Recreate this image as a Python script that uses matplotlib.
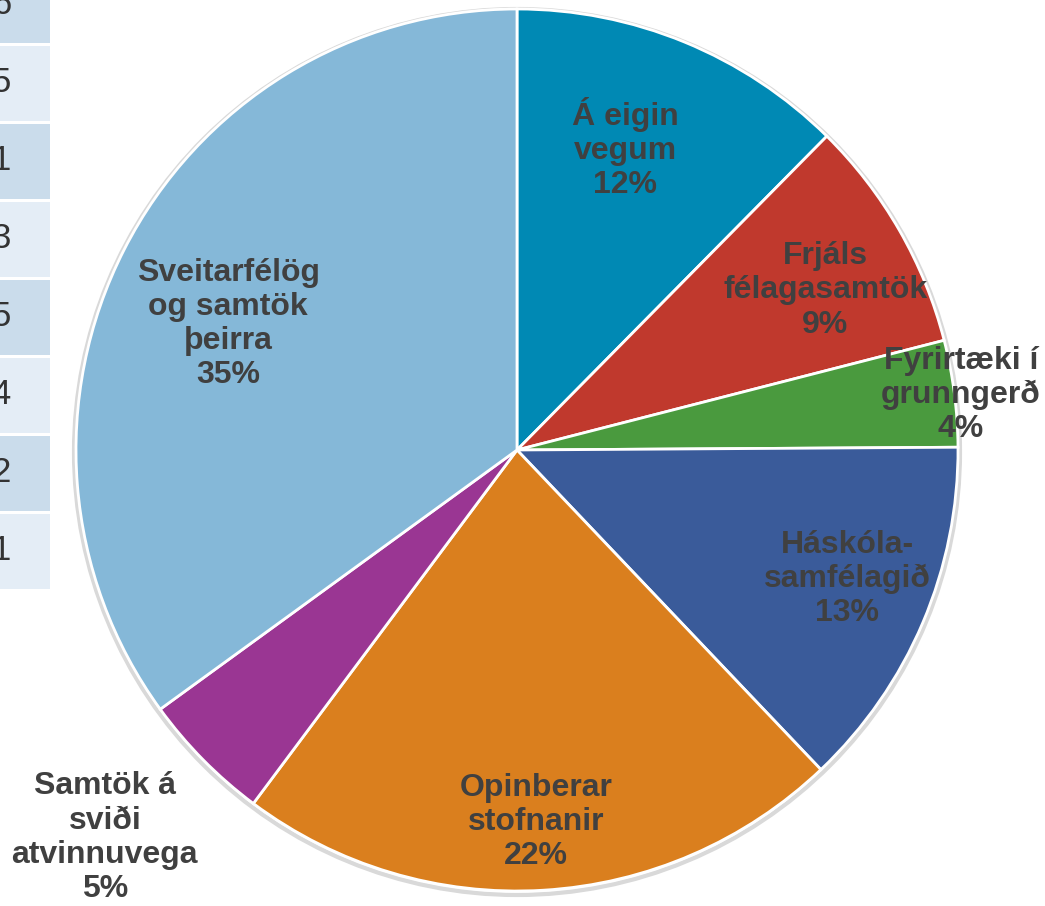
import numpy as np
import matplotlib.pyplot as plt
from matplotlib.patches import Rectangle, Circle

# pie data (clockwise from top)
labels = ['Á eigin\nvegum', 'Frjáls\nfélagasamtök', 'Fyrirtæki í\ngrunngerð',
          'Háskóla-\nsamfélagið', 'Opinberar\nstofnanir', 'Samtök á\nsviði\natvinnuvega',
          'Sveitarfélög\nog samtök\nþeirra']
values = [12.4, 8.6, 3.9, 13.0, 22.3, 4.8, 35.0]
colors = ['#0089B4', '#C0392D', '#4A9A3E', '#3A5B9A', '#DA7F1E', '#9A3693', '#85B8D8']

# partly visible table on the left
table_digits = ['6', '5', '1', '3', '5', '4', '2', '1']

W, H = 1045, 906
fig = plt.figure(figsize=(W/100, H/100), dpi=100)
ax = fig.add_axes([0, 0, 1, 1])
ax.set_xlim(0, W)
ax.set_ylim(0, H)
ax.set_aspect('equal')
ax.axis('off')

# table cells
row_h = 78
top = 44
for i, d in enumerate(table_digits):
    y_top = top + (i - 1) * row_h
    col = '#CADCEB' if i % 2 == 0 else '#E4EDF6'
    ax.add_patch(Rectangle((0, H - y_top - row_h + 1.5), 50, row_h - 3,
                           facecolor=col, edgecolor='none'))
    ax.text(11, H - y_top - row_h / 2, d, ha='right', va='center',
            fontsize=25, color='#333333', family='Liberation Sans')

cx, cy, r = 517, H - 450, 441
ax.add_patch(Circle((cx, cy - 2), r + 2, facecolor='none', edgecolor='#d9d9d9', lw=3))
wedges, _ = ax.pie(values, colors=colors, startangle=90, counterclock=False,
                   center=(cx, cy), radius=r,
                   wedgeprops=dict(edgecolor='white', linewidth=2))
ax.set_xlim(0, W)
ax.set_ylim(0, H)

# label placement: radius factor and angle shift (deg, clockwise) from slice middle
label_r = [0.727, 0.787, 1.014, 0.804, 0.845, 1.283, 0.715]
label_shift = [-2.6, 2.5, 0.3, -1.7, 0.5, 1.4, -3.4]
total = sum(values)
for w, lab, v, lr, sh in zip(wedges, labels, values, label_r, label_shift):
    ang = np.deg2rad((w.theta1 + w.theta2) / 2 - sh)
    x = cx + lr * r * np.cos(ang)
    y = cy + lr * r * np.sin(ang)
    pct = round(v / total * 100)
    ax.text(x, y, f'{lab}\n{pct}%', ha='center', va='center', fontsize=23,
            fontweight='bold', color='#404040', family='Liberation Sans',
            linespacing=1.18)

fig.savefig('out.png', dpi=100)
